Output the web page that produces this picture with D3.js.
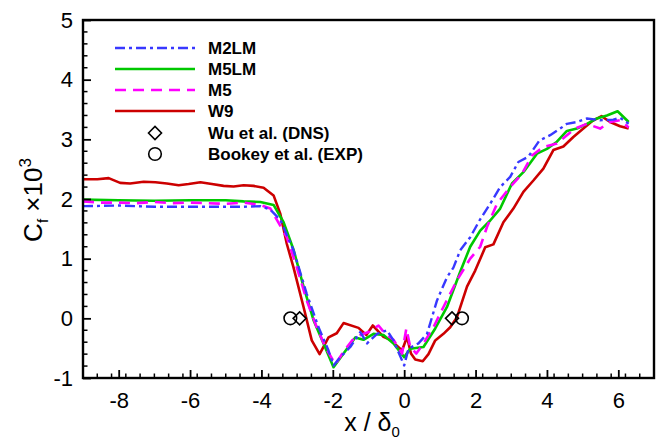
<!DOCTYPE html>
<html><head><meta charset="utf-8">
<script src="https://cdn.jsdelivr.net/npm/d3@7"></script>
<style>
body{margin:0;background:#fff;}
svg{display:block;font-family:"Liberation Sans",Arial,Helvetica,sans-serif;}
</style></head><body>
<svg id="chart" width="667" height="441"></svg>
<script>
// ---- data ----
const m2lmX = [-9,-8,-7,-6,-5,-4.5,-4.03,-3.75,-3.47,-3.1,-2.73,-2.4,-2.12,-1.98,-1.79,-1.51,-1.23,-1.04,-0.76,-0.48,-0.3,0,0.12,0.4,0.64,0.92,1.2,1.38,1.57,1.85,2.13,2.41,2.69,2.97,3.2,3.48,3.79,4.09,4.37,4.56,4.84,5.12,5.49,5.86,6.05,6.29];
const m2lmY = [1.88,1.89,1.87,1.87,1.87,1.87,1.88,1.82,1.65,1.14,0.41,-0.15,-0.54,-0.79,-0.65,-0.48,-0.23,-0.42,-0.26,-0.2,-0.37,-0.79,-0.51,-0.42,-0.26,0.3,0.69,0.85,1.14,1.36,1.66,1.92,2.2,2.37,2.62,2.71,2.98,3.07,3.18,3.26,3.29,3.35,3.32,3.33,3.36,3.26];

const m5lmX = [-9,-8,-7,-6,-5,-4.5,-4.03,-3.66,-3.38,-3.1,-2.82,-2.54,-2.26,-1.98,-1.7,-1.37,-1.14,-0.86,-0.58,-0.3,0,0.17,0.54,0.87,1.2,1.57,1.85,2.13,2.41,2.69,3.02,3.34,3.72,4.0,4.28,4.56,4.84,5.12,5.4,5.68,5.98,6.29];
const m5lmY = [1.99,1.98,1.97,1.98,1.98,1.96,1.95,1.9,1.61,1.15,0.53,-0.03,-0.42,-0.82,-0.59,-0.32,-0.36,-0.26,-0.28,-0.42,-0.65,-0.51,-0.48,-0.17,0.19,0.78,1.2,1.47,1.64,1.84,2.26,2.45,2.76,2.84,2.96,3.14,3.18,3.26,3.35,3.4,3.47,3.29];

const m5X = [-9,-8.5,-8,-7.5,-7,-6.5,-6,-5.5,-5,-4.5,-4.03,-3.75,-3.29,-3.01,-2.73,-2.45,-2.21,-1.93,-1.7,-1.46,-1.23,-1.0,-0.72,-0.53,-0.3,-0.06,0.06,0.17,0.34,0.54,0.82,1.1,1.48,1.85,2.13,2.32,2.6,2.97,3.3,3.58,3.9,4.28,4.56,4.79,5.12,5.49,5.77,6.05,6.29];
const m5Y = [1.96,1.94,1.94,1.93,1.95,1.93,1.94,1.93,1.92,1.94,1.9,1.84,1.36,0.86,0.3,-0.15,-0.48,-0.77,-0.56,-0.37,-0.28,-0.23,-0.12,-0.26,-0.36,-0.59,-0.17,-0.48,-0.59,-0.42,-0.15,0.19,0.64,1.0,1.2,1.53,1.92,2.2,2.42,2.73,2.87,2.93,3.07,3.18,3.26,3.18,3.29,3.32,3.2];

const w9X = [-9,-8.6,-8.28,-7.96,-7.68,-7.3,-6.97,-6.65,-6.32,-6.04,-5.71,-5.39,-5.06,-4.78,-4.5,-4.22,-3.94,-3.66,-3.47,-3.29,-3.1,-2.82,-2.59,-2.37,-2.12,-1.89,-1.7,-1.28,-1.06,-0.88,-0.58,-0.39,-0.06,0.08,0.19,0.31,0.52,0.68,0.87,1.1,1.29,1.48,1.76,1.99,2.27,2.5,2.78,3.06,3.34,3.62,3.9,4.18,4.46,4.74,5.02,5.28,5.53,5.77,6.05,6.29];
const w9Y = [2.33,2.33,2.35,2.27,2.26,2.29,2.28,2.26,2.23,2.25,2.28,2.25,2.22,2.21,2.23,2.22,2.19,2.06,1.75,1.25,0.85,0.19,-0.37,-0.6,-0.32,-0.25,-0.08,-0.16,-0.28,-0.12,-0.31,-0.36,-0.54,-0.31,-0.59,-0.69,-0.72,-0.6,-0.37,-0.26,-0.15,0.02,0.53,0.8,1.19,1.24,1.61,1.84,2.12,2.31,2.51,2.82,2.88,3.04,3.18,3.31,3.39,3.29,3.22,3.18];

const wuX = [-2.93, 1.34];
const wuY = [0, 0];
const bookeyX = [-3.19, 1.62];
const bookeyY = [0, 0];

const xTicks = [-8,-6,-4,-2,0,2,4,6];
const yTicks = [-1,0,1,2,3,4,5];
const seriesNames = ["M2LM","M5LM","M5","W9"];
const markerNames = ["Wu et al. (DNS)","Bookey et al. (EXP)"];

// ---- layout ----
const svg = d3.select("#chart");
const L = 83, R = 654, T = 20, B = 378;
const x = d3.scaleLinear().domain([-9, 7]).range([L, R]);
const y = d3.scaleLinear().domain([-1, 5]).range([B, T]);

const styles = [
  {color:"#3838ff", dash:"10,4,3,4", width:2.4},
  {color:"#00c800", dash:null, width:2.6},
  {color:"#ff00ff", dash:"11,7", width:2.6},
  {color:"#cc0000", dash:null, width:2.6}
];
const seriesData = [
  m2lmX.map((v,i)=>[v,m2lmY[i]]),
  m5lmX.map((v,i)=>[v,m5lmY[i]]),
  m5X.map((v,i)=>[v,m5Y[i]]),
  w9X.map((v,i)=>[v,w9Y[i]])
];

svg.append("clipPath").attr("id","clip").append("rect")
  .attr("x",L).attr("y",T).attr("width",R-L).attr("height",B-T);

const line = d3.line().x(d=>x(d[0])).y(d=>y(d[1]));
const g = svg.append("g").attr("clip-path","url(#clip)");
[3,1,2,0].forEach(i=>{
  g.append("path").datum(seriesData[i])
    .attr("d",line).attr("fill","none")
    .attr("stroke",styles[i].color).attr("stroke-width",styles[i].width)
    .attr("stroke-dasharray",styles[i].dash)
    .attr("stroke-linejoin","round");
});

// markers
function diamond(sel, cx, cy, r){
  sel.append("path").attr("d",`M${cx-r},${cy}L${cx},${cy-r}L${cx+r},${cy}L${cx},${cy+r}Z`)
    .attr("fill","none").attr("stroke","#000").attr("stroke-width",1.6);
}
wuX.forEach((v,i)=>diamond(svg, x(v), y(wuY[i]), 6.5));
bookeyX.forEach((v,i)=>{
  svg.append("circle").attr("cx",x(v)).attr("cy",y(bookeyY[i])).attr("r",6.3)
    .attr("fill","none").attr("stroke","#000").attr("stroke-width",1.6);
});

// axes: ticks inside
const xAxis = d3.axisBottom(x).tickValues(xTicks).tickSize(-8).tickPadding(14).tickFormat(d=>d);
const gx = svg.append("g").attr("transform",`translate(0,${B})`).call(xAxis);
const xMinor = d3.range(-9, 7.0001, 0.4).map(v=>Math.round(v*100)/100).filter(v=>!xTicks.includes(v));
gx.selectAll(".minor").data(xMinor).enter().append("line")
  .attr("x1",d=>x(d)).attr("x2",d=>x(d)).attr("y1",0).attr("y2",-4.5).attr("stroke","#000").attr("stroke-width",1.5);

const yAxis = d3.axisLeft(y).tickValues(yTicks).tickSize(-8).tickPadding(10).tickFormat(d=>d);
const gy = svg.append("g").attr("transform",`translate(${L},0)`).call(yAxis);
const yMinor = d3.range(-1, 5.0001, 0.2).map(v=>Math.round(v*10)/10).filter(v=>!yTicks.includes(v));
gy.selectAll(".minor").data(yMinor).enter().append("line")
  .attr("y1",d=>y(d)).attr("y2",d=>y(d)).attr("x1",0).attr("x2",4.5).attr("stroke","#000").attr("stroke-width",1.5);

[gx,gy].forEach(a=>{
  a.select(".domain").remove();
  a.selectAll(".tick line").attr("stroke","#000").attr("stroke-width",1.8);
  a.selectAll(".tick text").attr("fill","#000").style("font-size","22px")
   .style("font-family","'Liberation Sans',Arial,Helvetica,sans-serif");
});

// frame
svg.append("rect").attr("x",L).attr("y",T).attr("width",R-L).attr("height",B-T)
  .attr("fill","none").attr("stroke","#000").attr("stroke-width",2.4);

// axis titles
const xt = svg.append("text").attr("x",372).attr("y",431).attr("text-anchor","middle")
  .style("font-size","25px").attr("fill","#000");
xt.append("tspan").text("x / \u03B4");
xt.append("tspan").attr("dy",6).style("font-size","15px").text("0");

const yt = svg.append("text").attr("transform","translate(42,200) rotate(-90)")
  .attr("text-anchor","middle").style("font-size","26px").attr("fill","#000");
yt.append("tspan").text("C");
yt.append("tspan").attr("dy",6).style("font-size","15px").text("f");
yt.append("tspan").attr("dy",-6).text(" \u00D710");
yt.append("tspan").attr("dy",-11).style("font-size","17px").text("3");

// legend
const legRows = [48,69,90,111,133,154];
seriesNames.forEach((n,i)=>{
  svg.append("line").attr("x1",115).attr("x2",195).attr("y1",legRows[i]).attr("y2",legRows[i])
    .attr("stroke",styles[i].color).attr("stroke-width",styles[i].width).attr("stroke-dasharray",styles[i].dash);
  svg.append("text").attr("x",208).attr("y",legRows[i]+6).style("font-size","17px").style("font-weight","bold").text(n);
});
markerNames.forEach((n,i)=>{
  const cy = legRows[4+i];
  if(i===0) diamond(svg,155,cy,6.5);
  else svg.append("circle").attr("cx",155).attr("cy",cy).attr("r",6.3).attr("fill","none").attr("stroke","#000").attr("stroke-width",1.6);
  svg.append("text").attr("x",208).attr("y",cy+6).style("font-size","17px").style("font-weight","bold").text(n);
});
</script>
</body></html>
